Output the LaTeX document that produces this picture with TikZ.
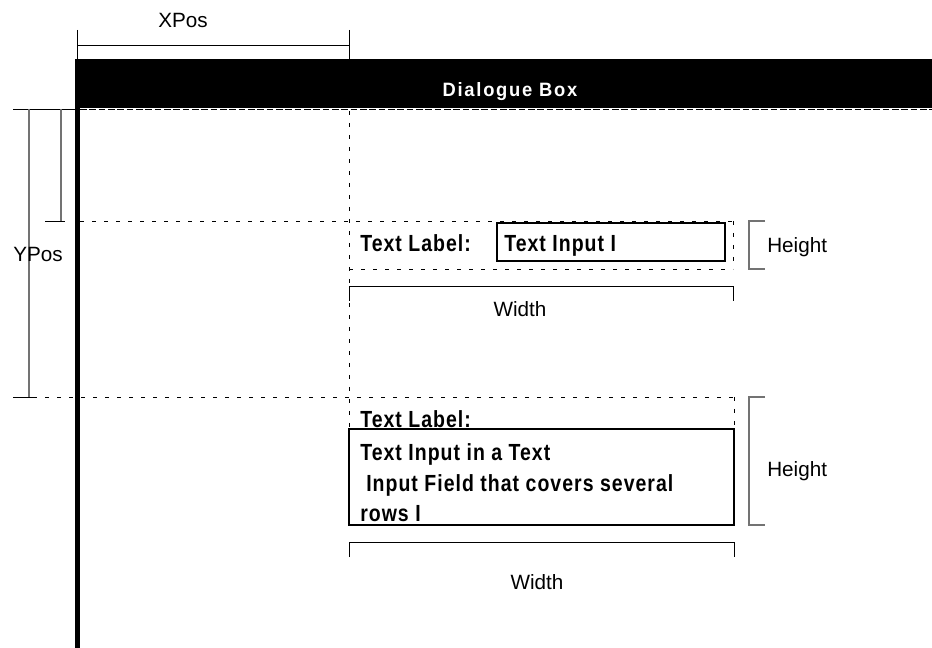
\documentclass[tikz,border=0pt]{standalone}
\usepackage{fontspec}
\setmainfont{Liberation Sans}
\newfontfamily\fieldfont[FakeStretch=0.835,LetterSpace=4.4]{Liberation Sans}
\newfontfamily\titlefont[FakeStretch=0.95,LetterSpace=9]{Liberation Sans}
\usetikzlibrary{positioning}

\begin{document}
\begin{tikzpicture}[x=0.75pt,y=-0.75pt,
    dim/.style={draw,line width=0.6pt},
    dimgrey/.style={draw=black!55,line width=0.8pt},
    guide/.style={draw,line width=0.5pt,dash pattern=on 3pt off 6pt},
    field/.style={draw,line width=2.1pt},
    lbl/.style={font=\fontsize{15.5}{18}\selectfont,inner sep=0pt},
    flbl/.style={font=\fieldfont\bfseries\fontsize{17.5}{23}\selectfont,inner sep=0pt,anchor=base west}]
  \useasboundingbox (0,0) rectangle (932,648);
  % dialogue window
  \fill (75,59) rectangle (932,108);
  \node (title) at (510,97) [anchor=base,inner sep=0pt,text=white,
    font=\titlefont\bfseries\fontsize{14.5}{16}\selectfont] {Dialogue Box};
  \draw[line width=3.75pt] (77,108) -- (77,648);
  \draw[guide,dash pattern=on 5pt off 2pt] (80,109.5) -- (932,109.5);
  % XPos / YPos
  \draw[dim] (77,30) -- (77,59) (349,30) -- (349,59) (77,45) -- (349,45);
  \node (xpos) at (183,28) [lbl,anchor=base] {XPos};
  \draw[dim] (13,109) -- (77,109) (13,397) -- (33,397) (45,221) -- (65,221);
  \draw[dimgrey] (29,109) -- (29,397) (61,109) -- (61,221);
  \node (ypos) at (13,262) [lbl,anchor=base west] {YPos};
  % guides
  \draw[guide] (80,221) -- (733,221) (349,269) -- (733,269) (733,221) -- (733,269);
  \draw[guide] (349,111) -- (349,429);
  \draw[guide] (33,397) -- (734,397) (734,397) -- (734,429);
  % single row field
  \node (lbla) at (360,252) [flbl] {Text Label:};
  \draw[field] (497,223) rectangle (725,261);
  \node (inpa) at (504,252) [flbl] {Text Input I};
  \draw[dimgrey] (765,221) -- (749,221) -- (749,269) -- (765,269);
  \node (hgta) at (767,253) [lbl,anchor=base west] {Height};
  \draw[dim] (349,301) -- (349,286) -- (733,286) -- (733,301);
  \node (wida) at (520,317) [lbl,anchor=base] {Width};
  % multi row field
  \node (lblb) at (360,428) [flbl] {Text Label:};
  \node (inpb) at (360,460) [flbl] {Text Input in a Text};
  \node (inpc) at (360,492) [flbl] {\hspace{4.5pt}Input Field that covers several};
  \node (inpd) at (360,522) [flbl] {rows I};
  \draw[field] (349,429) rectangle (734,525);
  \draw[dimgrey] (765,397) -- (749,397) -- (749,525) -- (765,525);
  \node (hgtb) at (767,477) [lbl,anchor=base west] {Height};
  \draw[dim] (349,557) -- (349,542) -- (734,542) -- (734,557);
  \node (widb) at (537,589) [lbl,anchor=base] {Width};
\end{tikzpicture}
\end{document}
